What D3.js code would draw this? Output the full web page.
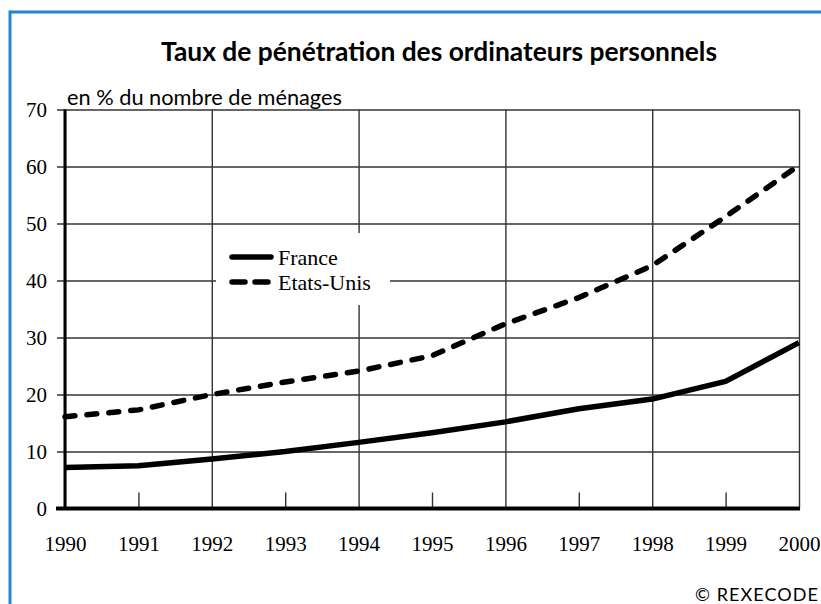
<!DOCTYPE html>
<html>
<head>
<meta charset="utf-8">
<script src="https://cdn.jsdelivr.net/npm/d3@7"></script>
<style>
  html, body { margin: 0; padding: 0; background: #fff; }
  svg { display: block; }
</style>
</head>
<body>
<svg id="chart" width="821" height="604"></svg>
<script>
const years = [1990, 1991, 1992, 1993, 1994, 1995, 1996, 1997, 1998, 1999, 2000];
const france = [7.2, 7.5, 8.7, 10.0, 11.6, 13.3, 15.2, 17.5, 19.2, 22.3, 29.1];
const etatsUnis = [16.1, 17.3, 20.0, 22.2, 24.1, 26.8, 32.4, 37.0, 42.6, 51.2, 60.2];
const yTicks = [0, 10, 20, 30, 40, 50, 60, 70];
const majorYears = [1990, 1992, 1994, 1996, 1998, 2000];
const minorYears = [1991, 1993, 1995, 1997, 1999];
const seriesNames = ["France", "Etats-Unis"];
const titleText = "Taux de pénétration des ordinateurs personnels";
const subtitleText = "en % du nombre de ménages";
const sourceText = "© REXECODE";

const svg = d3.select("#chart");
const plotLeft = 65, plotRight = 799, plotTop = 109.5, plotBottom = 508.5;
const x = d3.scaleLinear().domain([1990, 2000]).range([plotLeft, plotRight]);
const y = d3.scaleLinear().domain([0, 70]).range([plotBottom, plotTop]);
const serif = "'Liberation Serif', 'DejaVu Serif', serif";
const sans = "Lato, 'Open Sans', sans-serif";

// blue frame
svg.append("line").attr("x1", 10).attr("x2", 821).attr("y1", 12).attr("y2", 12)
  .attr("stroke", "#1f87d0").attr("stroke-width", 3);
svg.append("line").attr("x1", 10).attr("x2", 10).attr("y1", 10.5).attr("y2", 604)
  .attr("stroke", "#1f87d0").attr("stroke-width", 3);

function fitText(sel, target) {
  const w = sel.node().getComputedTextLength();
  const fs = parseFloat(sel.attr("font-size"));
  if (w > 0) sel.attr("font-size", fs * target / w);
}

// title
const t = svg.append("text").attr("x", 439).attr("y", 61).attr("text-anchor", "middle")
  .attr("font-family", sans).attr("font-weight", "bold").attr("font-size", 22)
  .attr("fill", "#000").text(titleText);
fitText(t, 556);

// subtitle
const st = svg.append("text").attr("x", 67).attr("y", 105)
  .attr("font-family", sans).attr("font-size", 20).attr("fill", "#000").text(subtitleText);
fitText(st, 275);

// horizontal grid + y labels
const yAxis = d3.axisLeft(y).tickValues(yTicks).tickSize(plotRight - 57).tickPadding(10)
  .tickFormat(d3.format("d"));
const gy = svg.append("g").attr("transform", `translate(${plotRight},0)`).call(yAxis);
gy.select(".domain").remove();
gy.selectAll(".tick line").attr("stroke", "#333").attr("stroke-width", 1.4);
gy.selectAll(".tick text").attr("font-family", serif).attr("font-size", 21).attr("fill", "#000");

// vertical grid (major years)
const gxMaj = svg.append("g").attr("transform", `translate(0,${plotBottom})`)
  .call(d3.axisBottom(x).tickValues(majorYears).tickSize(-(plotBottom - plotTop)).tickFormat(""));
gxMaj.select(".domain").remove();
gxMaj.selectAll(".tick line").attr("stroke", "#333").attr("stroke-width", 1.4);

// minor ticks (odd years)
const gxMin = svg.append("g").attr("transform", `translate(0,${plotBottom})`)
  .call(d3.axisBottom(x).tickValues(minorYears).tickSize(-16).tickFormat(""));
gxMin.select(".domain").remove();
gxMin.selectAll(".tick line").attr("stroke", "#333").attr("stroke-width", 1.4);

// year labels
const gxLab = svg.append("g").attr("transform", `translate(0,${plotBottom})`)
  .call(d3.axisBottom(x).tickValues(years).tickSize(0).tickPadding(28).tickFormat(d3.format("d")));
gxLab.select(".domain").remove();
gxLab.selectAll(".tick text").attr("font-family", serif).attr("font-size", 21).attr("fill", "#000");

// axes lines
svg.append("line").attr("x1", x(1990)).attr("x2", x(1990)).attr("y1", y(70)).attr("y2", y(0))
  .attr("stroke", "#000").attr("stroke-width", 3);
svg.append("line").attr("x1", 56).attr("x2", plotRight + 1).attr("y1", y(0)).attr("y2", y(0))
  .attr("stroke", "#000").attr("stroke-width", 4);

// lines
const line = d3.line().x((d, i) => x(years[i])).y(d => y(d));
svg.append("path").datum(france).attr("d", line).attr("fill", "none")
  .attr("stroke", "#000").attr("stroke-width", 5.5).attr("stroke-linejoin", "round");
svg.append("path").datum(etatsUnis).attr("d", line).attr("fill", "none")
  .attr("stroke", "#000").attr("stroke-width", 5.5).attr("stroke-linecap", "round")
  .attr("stroke-dasharray", "10,12");

// legend
svg.append("rect").attr("x", 216).attr("y", 233).attr("width", 174).attr("height", 72)
  .attr("fill", "#fff");
svg.append("line").attr("x1", 232).attr("x2", 271).attr("y1", 257).attr("y2", 257)
  .attr("stroke", "#000").attr("stroke-width", 5.5).attr("stroke-linecap", "round");
svg.append("line").attr("x1", 232).attr("x2", 272).attr("y1", 282).attr("y2", 282)
  .attr("stroke", "#000").attr("stroke-width", 5.5).attr("stroke-linecap", "round")
  .attr("stroke-dasharray", "13,10");
svg.append("text").attr("x", 278).attr("y", 265).attr("font-family", serif).attr("font-size", 22)
  .attr("fill", "#000").text(seriesNames[0]);
svg.append("text").attr("x", 278).attr("y", 290).attr("font-family", serif).attr("font-size", 22)
  .attr("fill", "#000").text(seriesNames[1]);

// source
const src = svg.append("text").attr("x", 819).attr("y", 601).attr("text-anchor", "end")
  .attr("font-family", sans).attr("font-size", 18).attr("fill", "#000").text(sourceText);
{
  const w = src.node().getComputedTextLength();
  const n = sourceText.length;
  if (w > 0 && w < 124) src.attr("letter-spacing", ((124 - w) / n).toFixed(2));
}
</script>
</body>
</html>
